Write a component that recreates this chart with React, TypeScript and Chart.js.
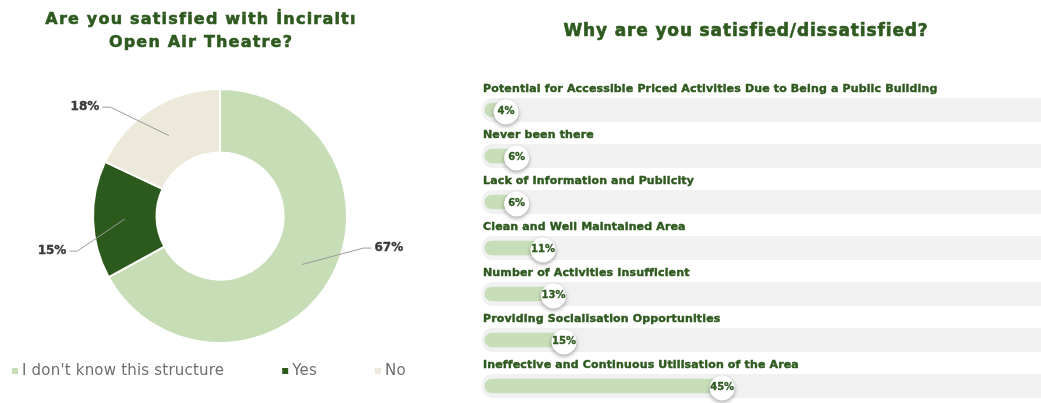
import React, { useEffect, useRef } from "react";
import { Chart, registerables } from "chart.js";

Chart.register(...registerables);

const leftTitle = ["Are you satisfied with İnciraltı", "Open Air Theatre?"];
const pieLabels = ["I don't know this structure", "Yes", "No"];
const pieValues = [67, 15, 18];
const pieColors = ["#c6ddb6", "#2c5a1c", "#ede9da"];

const rightTitle = "Why are you satisfied/dissatisfied?";
const reasonLabels = [
  "Potential for Accessible Priced Activities Due to Being a Public Building",
  "Never been there",
  "Lack of Information and Publicity",
  "Clean and Well Maintained Area",
  "Number of Activities Insufficient",
  "Providing Socialisation Opportunities",
  "Ineffective and Continuous Utilisation of the Area",
];
const reasonValues = [4, 6, 6, 11, 13, 15, 45];

const FONT = "'DejaVu Sans', 'Open Sans', sans-serif";
const DARK = "#2e5a1f";

function roundRect(ctx: CanvasRenderingContext2D, x: number, y: number, w: number, h: number, r: number) {
  ctx.beginPath();
  ctx.moveTo(x + r, y);
  ctx.lineTo(x + w - r, y);
  ctx.arcTo(x + w, y, x + w, y + r, r);
  ctx.lineTo(x + w, y + h - r);
  ctx.arcTo(x + w, y + h, x + w - r, y + h, r);
  ctx.lineTo(x + r, y + h);
  ctx.arcTo(x, y + h, x, y + h - r, r);
  ctx.lineTo(x, y + r);
  ctx.arcTo(x, y, x + r, y, r);
  ctx.closePath();
}

function heavyText(
  ctx: CanvasRenderingContext2D,
  text: string,
  x: number,
  y: number,
  size: number,
  color: string,
  spacing: number,
  stroke: number,
  align: CanvasTextAlign
) {
  ctx.save();
  ctx.font = `bold ${size}px ${FONT}`;
  (ctx as any).letterSpacing = `${spacing}px`;
  ctx.textAlign = align;
  ctx.textBaseline = "middle";
  ctx.fillStyle = color;
  ctx.strokeStyle = color;
  ctx.lineWidth = stroke;
  ctx.lineJoin = "round";
  ctx.fillText(text, x, y);
  if (stroke > 0) ctx.strokeText(text, x, y);
  ctx.restore();
}

const donutDecor = {
  id: "donutDecor",
  afterDraw(chart: any) {
    const ctx: CanvasRenderingContext2D = chart.ctx;
    ctx.save();
    leftTitle.forEach((t, i) => heavyText(ctx, t, 201, 20 + i * 23, 16, DARK, 1.2, 0.6, "center"));

    // leader labels
    const meta = chart.getDatasetMeta(0);
    const ds = chart.data.datasets[0];
    meta.data.forEach((arc: any, i: number) => {
      const p = arc.getProps(["x", "y", "startAngle", "endAngle", "innerRadius", "outerRadius"], true);
      const mid = (p.startAngle + p.endAngle) / 2;
      const r0 = (p.innerRadius + p.outerRadius) / 2;
      const sx = p.x + Math.cos(mid) * r0;
      const sy = p.y + Math.sin(mid) * r0;
      const a2 = mid - (15 * Math.PI) / 180;
      const r2 = p.outerRadius + 22;
      const ex = p.x + Math.cos(a2) * r2;
      const ey = p.y + Math.sin(a2) * r2 - 8;
      const right = Math.cos(a2) >= 0;
      const hx = ex + (right ? 8 : -8);
      ctx.strokeStyle = "#9a9a9a";
      ctx.lineWidth = 1;
      ctx.beginPath();
      ctx.moveTo(sx, sy);
      ctx.lineTo(ex, ey);
      ctx.lineTo(hx, ey);
      ctx.stroke();
      heavyText(ctx, ds.data[i] + "%", hx + (right ? 3 : -3), ey, 12, "#3a3a3a", 0, 0.4, right ? "left" : "right");
    });

    // legend
    ctx.font = `400 15px ${FONT}`;
    (ctx as any).letterSpacing = "0.2px";
    ctx.textAlign = "left";
    ctx.textBaseline = "middle";
    let x = 12;
    const y = 371;
    pieLabels.forEach((l, i) => {
      ctx.fillStyle = pieColors[i];
      ctx.fillRect(x, y - 3, 6, 6);
      ctx.fillStyle = "#6e6e6e";
      ctx.fillText(l, x + 10, y);
      x += 10 + ctx.measureText(l).width + 58;
    });
    ctx.restore();
  },
};

const barDecor = {
  id: "barDecor",
  beforeDatasetsDraw(chart: any) {
    const ctx: CanvasRenderingContext2D = chart.ctx;
    const xs = chart.scales.x;
    const ys = chart.scales.y;
    ctx.save();
    reasonLabels.forEach((_, i) => {
      const cy = ys.getPixelForValue(i);
      const x0 = xs.getPixelForValue(0) - 3;
      ctx.fillStyle = "#f1f1f1";
      roundRect(ctx, x0, cy - 12, chart.width - x0 + 20, 24, 10);
      ctx.fill();
    });
    ctx.restore();
  },
  afterDatasetsDraw(chart: any) {
    const ctx: CanvasRenderingContext2D = chart.ctx;
    const xs = chart.scales.x;
    const ys = chart.scales.y;
    ctx.save();
    heavyText(ctx, rightTitle, 286, 32, 17, DARK, 0.85, 0.6, "center");

    reasonLabels.forEach((l, i) => {
      const cy = ys.getPixelForValue(i);
      heavyText(ctx, l, xs.getPixelForValue(0) - 2, cy - 21, 11, DARK, 0.15, 0.45, "left");

      const bx = xs.getPixelForValue(reasonValues[i]);
      const by = cy + 2;
      ctx.save();
      ctx.shadowColor = "rgba(0,0,0,0.35)";
      ctx.shadowBlur = 4;
      ctx.shadowOffsetY = 2;
      ctx.fillStyle = "#ffffff";
      ctx.beginPath();
      ctx.arc(bx, by, 12.5, 0, Math.PI * 2);
      ctx.fill();
      ctx.restore();
      heavyText(ctx, reasonValues[i] + "%", bx, cy + 1, 10, DARK, 0, 0.35, "center");
    });
    ctx.restore();
  },
};

export default function App() {
  const leftRef = useRef<HTMLCanvasElement>(null);
  const rightRef = useRef<HTMLCanvasElement>(null);

  useEffect(() => {
    const c1 = new Chart(leftRef.current!, {
      type: "doughnut",
      data: {
        labels: pieLabels,
        datasets: [
          {
            data: pieValues,
            backgroundColor: pieColors,
            borderColor: "#ffffff",
            borderWidth: 2,
          },
        ],
      },
      options: {
        responsive: false,
        animation: false,
        cutout: "50%",
        layout: { padding: { top: 88, bottom: 59, left: 92, right: 112 } },
        plugins: { legend: { display: false }, tooltip: { enabled: false }, title: { display: false } },
      },
      plugins: [donutDecor],
    });

    const c2 = new Chart(rightRef.current!, {
      type: "bar",
      data: {
        labels: reasonLabels,
        datasets: [
          {
            data: reasonValues,
            backgroundColor: "#c8deb9",
            barThickness: 14,
            borderRadius: 7,
            borderSkipped: false,
            clip: false as any,
          },
        ],
      },
      options: {
        indexAxis: "y",
        responsive: false,
        animation: false,
        layout: { padding: { top: 110, bottom: 17, left: 25, right: 29 } },
        scales: {
          x: { display: false, min: 0, max: 100 },
          y: { display: false, offset: false },
        },
        plugins: { legend: { display: false }, tooltip: { enabled: false } },
      },
      plugins: [barDecor],
    });

    return () => {
      c1.destroy();
      c2.destroy();
    };
  }, []);

  return (
    <div style={{ position: "absolute", left: 0, top: 0, width: 1041, height: 403, background: "#ffffff", overflow: "hidden" }}>
      <canvas ref={leftRef} width={460} height={403} style={{ position: "absolute", left: 0, top: 0 }} />
      <canvas ref={rightRef} width={581} height={403} style={{ position: "absolute", left: 460, top: 0 }} />
    </div>
  );
}
